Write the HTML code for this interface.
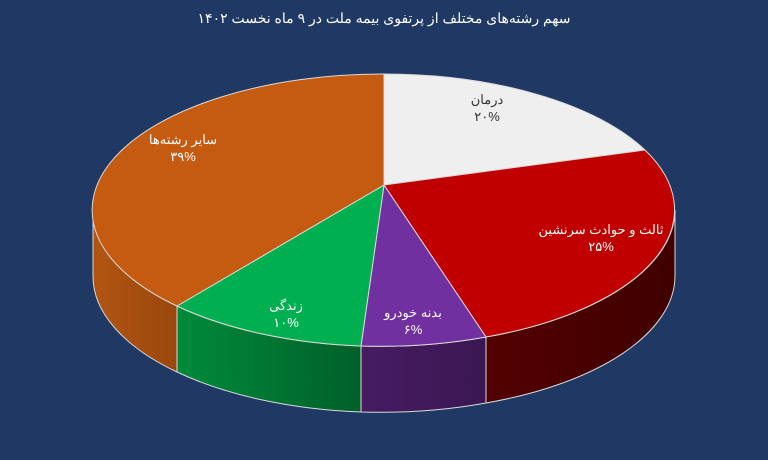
<!DOCTYPE html>
<html><head><meta charset="utf-8"><style>
html,body{margin:0;padding:0;background:#203864;}
svg{display:block}
text{font-family:"Liberation Sans","Noto Sans CJK SC",sans-serif;text-anchor:middle}
</style></head><body>
<svg width="768" height="460" viewBox="0 0 768 460" xmlns="http://www.w3.org/2000/svg">
<defs>
<linearGradient id="gG" x1="0" x2="1"><stop offset="0" stop-color="#008a3a"/><stop offset="1" stop-color="#00602a"/></linearGradient>
<linearGradient id="gO" x1="0" x2="1"><stop offset="0" stop-color="#b25512"/><stop offset="1" stop-color="#9a470e"/></linearGradient>
<linearGradient id="gP" x1="0" x2="1"><stop offset="0" stop-color="#461c62"/><stop offset="1" stop-color="#3a1752"/></linearGradient>
<linearGradient id="gR" x1="0" x2="1"><stop offset="0" stop-color="#520000"/><stop offset="1" stop-color="#400000"/></linearGradient>
</defs>
<rect width="768" height="460" fill="#203864"/>
<text x="384" y="23" fill="#fff" font-size="14">سهم رشته‌های مختلف از پرتفوی بیمه ملت در ۹ ماه نخست ۱۴۰۲</text>
<g stroke="#d9d9d9" stroke-width="1" stroke-linejoin="round">
<path d="M675,210 A291,136 0 0 1 486,337 L486,403 A291,136 0 0 0 675,276 Z" fill="url(#gR)"/>
<path d="M486,337 A291,136 0 0 1 361,346 L361,412 A291,136 0 0 0 486,403 Z" fill="url(#gP)"/>
<path d="M361,346 A291,136 0 0 1 177,306 L177,372 A291,136 0 0 0 361,412 Z" fill="url(#gG)"/>
<path d="M177,306 A291,136 0 0 1 93,210 L93,276 A291,136 0 0 0 177,372 Z" fill="url(#gO)"/>
<path d="M384,185 L384,74 A291,136 0 0 1 645,150 Z" fill="#efefef"/>
<path d="M384,185 L645,150 A291,136 0 0 1 486,337 Z" fill="#c00000"/>
<path d="M384,185 L486,337 A291,136 0 0 1 361,346 Z" fill="#7030a0"/>
<path d="M384,185 L361,346 A291,136 0 0 1 177,306 Z" fill="#00b050"/>
<path d="M384,185 L177,306 A291,136 0 0 1 384,74 Z" fill="#c55a11"/>
</g>
<g font-size="13">
<text x="487" y="104" fill="#333">درمان</text>
<text x="487" y="121" fill="#333">۲۰%</text>
<text x="601" y="234" fill="#fff">ثالث و حوادث سرنشین</text>
<text x="601" y="251" fill="#fff">۲۵%</text>
<text x="413" y="317" fill="#fff">بدنه خودرو</text>
<text x="413" y="334" fill="#fff">۶%</text>
<text x="286" y="310" fill="#fff">زندگی</text>
<text x="286" y="327" fill="#fff">۱۰%</text>
<text x="183" y="144" fill="#fff">سایر رشته‌ها</text>
<text x="183" y="161" fill="#fff">۳۹%</text>
</g>
</svg>
</body></html>
